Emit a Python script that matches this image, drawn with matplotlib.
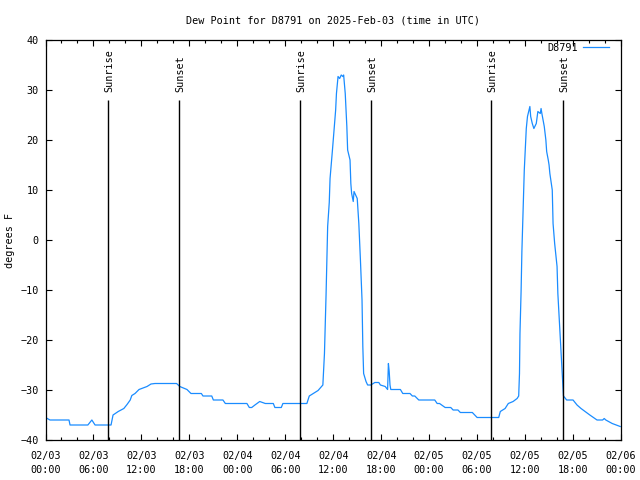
import matplotlib
matplotlib.use("Agg")
import matplotlib.pyplot as plt
from matplotlib.ticker import MultipleLocator

# hours since 2025-02-03 00:00 UTC
hours = [0, 0.56, 2.94, 3.07, 5.3, 5.8, 6.2, 8.2, 8.45, 9.1, 9.8, 10.2, 10.6, 10.8,
         11.2, 11.7, 12.7, 13.2, 13.7, 16.4, 16.8, 17.7, 18.2, 19.5, 19.7, 20.8,
         21.0, 22.2, 22.5, 25.2, 25.5, 25.8, 26.2, 26.8, 27.5, 28.5, 28.7, 29.5,
         29.7, 32.7, 33.0, 33.5, 34.1, 34.7, 34.9, 35.1, 35.2, 35.3, 35.5, 35.6,
         35.8, 35.9, 36.1, 36.3, 36.4, 36.6, 36.8, 37.0, 37.2, 37.3, 37.5, 37.7,
         37.8, 38.1, 38.2, 38.3, 38.5, 38.6, 38.8, 39.0, 39.2, 39.4, 39.6, 39.7,
         39.8, 40.1, 40.3, 40.7, 41.2, 41.7, 41.9, 42.5, 42.8, 42.9, 43.0, 43.1,
         43.2, 44.4, 44.7, 45.6, 45.9, 46.2, 46.7, 48.7, 49.0, 49.3, 50.0, 50.7,
         51.0, 51.6, 51.9, 53.4, 54.0, 56.7, 56.9, 57.5, 57.9, 58.5, 59.0, 59.2,
         59.3, 59.36, 59.5, 59.6, 59.8, 59.9, 60.0, 60.15, 60.3, 60.5, 60.6, 60.7,
         60.9, 61.1, 61.4, 61.6, 61.9, 62.0, 62.1, 62.4, 62.6, 62.7, 62.9, 63.0,
         63.1, 63.4, 63.5, 63.7, 64.0, 64.1, 64.3, 64.5, 64.7, 64.8, 65.2, 66.0,
         66.5, 67.0, 67.5, 68.1, 69.0, 69.7, 69.9, 70.1, 70.9, 71.9]
dewpoint = [-35.5, -36, -36, -37, -37, -36, -37, -37, -35, -34.3, -33.7, -32.9, -32, -31.1,
            -30.7, -29.9, -29.3, -28.8, -28.7, -28.7, -29.3, -29.9, -30.7, -30.7, -31.2, -31.2,
            -32, -32, -32.7, -32.7, -33.5, -33.5, -33, -32.3, -32.7, -32.7, -33.5, -33.5,
            -32.7, -32.7, -31.2, -30.7, -30.1, -29, -22.7, -11, -4, 2.7, 7.5, 12.3,
            16, 18, 22, 26, 29.3, 32.7, 32.3, 33, 32.7, 33, 29.3, 22.7,
            18, 16, 11.3, 9.3, 7.7, 9.7, 9, 8.3, 3.3, -4, -12, -21.3,
            -26.7, -28.3, -29, -29, -28.5, -28.5, -29, -29.3, -29.9, -24.7, -26.3, -29,
            -29.9, -29.9, -30.7, -30.7, -31.2, -31.2, -32, -32, -32.7, -32.7, -33.5, -33.5,
            -34, -34, -34.5, -34.5, -35.5, -35.5, -34.3, -33.7, -32.7, -32.3, -31.7, -31.2,
            -26.7, -18.7, -10.3, -2.3, 8.3, 14, 17.3, 22.3, 24.7, 26, 26.7, 24.7,
            23.3, 22.3, 23.3, 25.7, 25.3, 26.3, 25.3, 22.7, 20, 17.7, 16, 15,
            13.3, 10, 3.3, -0.7, -5.3, -10.7, -16.7, -22.7, -28.3, -31.2, -32, -32,
            -33, -33.7, -34.3, -35, -36, -36, -35.7, -36, -36.7, -37.3]

sun_events = [7.86, 16.74, 31.84, 40.72, 55.74, 64.74]
sun_labels = ["Sunrise", "Sunset", "Sunrise", "Sunset", "Sunrise", "Sunset"]

tick_hours = list(range(0, 73, 6))
tick_labels = ["02/03\n00:00", "02/03\n06:00", "02/03\n12:00", "02/03\n18:00",
               "02/04\n00:00", "02/04\n06:00", "02/04\n12:00", "02/04\n18:00",
               "02/05\n00:00", "02/05\n06:00", "02/05\n12:00", "02/05\n18:00",
               "02/06\n00:00"]

plt.rcParams['font.family'] = ['DejaVu Sans Mono']
plt.rcParams['font.size'] = 7.3

fig = plt.figure(figsize=(6.4, 4.8), dpi=100)
ax = fig.add_axes([45.5 / 640, 40 / 480, 575.5 / 640, 400 / 480])

ax.plot(hours, dewpoint, color='#1a8cff', lw=0.9, label='D8791')
ax.vlines(sun_events, -40, 28, color='black', lw=1)
for t, lab in zip(sun_events, sun_labels):
    ax.text(t + 0.15, 29.5, lab, rotation=90, ha='center', va='bottom')

ax.set_xlim(0, 72)
ax.set_ylim(-40, 40)
ax.set_xticks(tick_hours)
ax.set_xticklabels(tick_labels, linespacing=1.45)
ax.xaxis.set_minor_locator(MultipleLocator(2))
ax.yaxis.set_major_locator(MultipleLocator(10))
ax.tick_params(which='both', direction='in', top=True, right=True, width=0.8)
ax.tick_params(which='major', length=4.5, pad=5)
ax.tick_params(axis='x', which='major', pad=8)
ax.tick_params(which='minor', length=2.5)
for s in ax.spines.values():
    s.set_linewidth(0.9)

ax.set_ylabel('degrees F', labelpad=4)
ax.set_title('Dew Point for D8791 on 2025-Feb-03 (time in UTC)', pad=12, fontsize=7.3)
ax.legend(loc='upper right', frameon=False, markerfirst=False, handlelength=2.6,
          bbox_to_anchor=(1 - 10 / 575.5, 1 - 1 / 400), borderaxespad=0,
          borderpad=0.2, handletextpad=0.5)

fig.savefig('out.png', dpi=100)
